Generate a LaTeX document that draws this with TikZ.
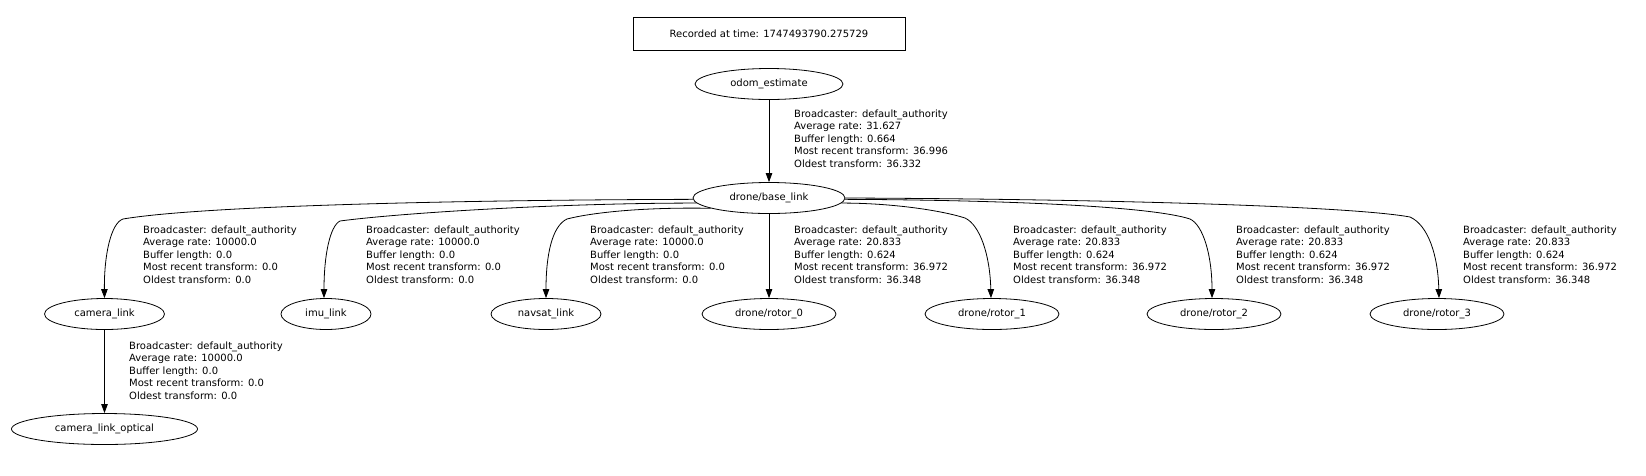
\documentclass[tikz,border=0pt]{standalone}
\usepackage{fontspec}
\setmainfont{DejaVu Sans}
\usetikzlibrary{shapes.geometric,arrows.meta}
\begin{document}
\begin{tikzpicture}[x=1pt,y=-1pt,
  every node/.style={font=\fontsize{10}{12.5}\selectfont, inner sep=0pt},
  frame/.style={ellipse, draw, line width=0.8pt, minimum height=31pt},
  lbl/.style={anchor=north west, align=left},
  edge/.style={draw, line width=0.8pt, -{Triangle[length=9pt,width=6.5pt]}},
  timebox/.style={draw, line width=0.8pt, minimum width=272pt, minimum height=33pt}]
\useasboundingbox[fill=white] (0,0) rectangle (1646,475);

\node[timebox] (time) at (769,33.5) {Recorded at time: 1747493790.275729};

\node[frame, minimum width=148pt] (odom) at (769,84) {odom\_estimate};
\node[frame, minimum width=152pt] (base) at (769,198) {drone/base\_link};

\node[frame, minimum width=120pt] (cam) at (104.5,314) {camera\_link};
\node[frame, minimum width=90pt] (imu) at (326,314) {imu\_link};
\node[frame, minimum width=110pt] (nav) at (546,314) {navsat\_link};
\node[frame, minimum width=134pt] (r0) at (769,314) {drone/rotor\_0};
\node[frame, minimum width=134pt] (r1) at (992,314) {drone/rotor\_1};
\node[frame, minimum width=134pt] (r2) at (1214,314) {drone/rotor\_2};
\node[frame, minimum width=134pt] (r3) at (1437,314) {drone/rotor\_3};
\node[frame, minimum width=186pt] (opt) at (104.5,429) {camera\_link\_optical};

% labels
\node[lbl] (l0) at (794,109.4) {Broadcaster: default\_authority\\Average rate: 31.627\\Buffer length: 0.664\\Most recent transform: 36.996\\Oldest transform: 36.332};
\node[lbl] (lc) at (143,225.4) {Broadcaster: default\_authority\\Average rate: 10000.0\\Buffer length: 0.0\\Most recent transform: 0.0\\Oldest transform: 0.0};
\node[lbl] (li) at (366,225.4) {Broadcaster: default\_authority\\Average rate: 10000.0\\Buffer length: 0.0\\Most recent transform: 0.0\\Oldest transform: 0.0};
\node[lbl] (ln) at (590,225.4) {Broadcaster: default\_authority\\Average rate: 10000.0\\Buffer length: 0.0\\Most recent transform: 0.0\\Oldest transform: 0.0};
\node[lbl] (lr0) at (794,225.4) {Broadcaster: default\_authority\\Average rate: 20.833\\Buffer length: 0.624\\Most recent transform: 36.972\\Oldest transform: 36.348};
\node[lbl] (lr1) at (1013,225.4) {Broadcaster: default\_authority\\Average rate: 20.833\\Buffer length: 0.624\\Most recent transform: 36.972\\Oldest transform: 36.348};
\node[lbl] (lr2) at (1236,225.4) {Broadcaster: default\_authority\\Average rate: 20.833\\Buffer length: 0.624\\Most recent transform: 36.972\\Oldest transform: 36.348};
\node[lbl] (lr3) at (1463,225.4) {Broadcaster: default\_authority\\Average rate: 20.833\\Buffer length: 0.624\\Most recent transform: 36.972\\Oldest transform: 36.348};
\node[lbl] (lo) at (129,341.4) {Broadcaster: default\_authority\\Average rate: 10000.0\\Buffer length: 0.0\\Most recent transform: 0.0\\Oldest transform: 0.0};

% edges
\draw[edge] (odom) -- (base);
\draw[edge] (base.181) .. controls (450,200) and (200,206) .. (123,219) .. controls (111,223) and (104,255) .. (cam.north);
\draw[edge] (base.184) .. controls (560,203) and (400,213) .. (340,221) .. controls (330,226) and (324,255) .. ([xshift=-2pt]imu.north);
\draw[edge] (base.190) .. controls (640,207) and (590,213) .. (567,219) .. controls (552,226) and (546,255) .. (nav.north);
\draw[edge] (base) -- (r0);
\draw[edge] (base.-4) .. controls (890,203) and (940,210) .. (965,218) .. controls (980,225) and (990,255) .. ([xshift=-1pt]r1.north);
\draw[edge] (base.-1) .. controls (1000,200) and (1150,206) .. (1190,219) .. controls (1203,225) and (1212,255) .. ([xshift=-2pt]r2.north);
\draw[edge] (base.0) .. controls (1100,199) and (1350,206) .. (1410,217) .. controls (1428,225) and (1438,255) .. ([xshift=2pt]r3.north);
\draw[edge] (cam) -- (opt);
\end{tikzpicture}
\end{document}
